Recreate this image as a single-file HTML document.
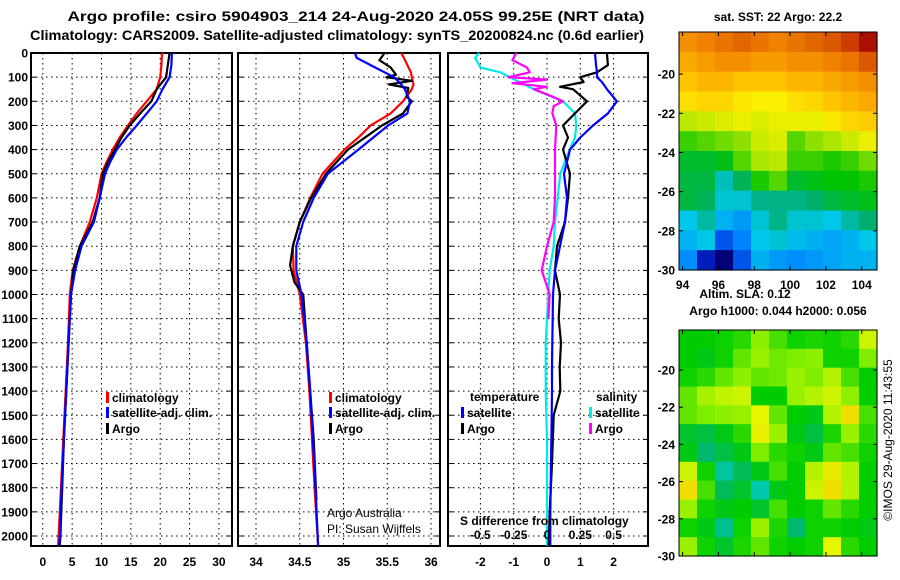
<!DOCTYPE html>
<html><head><meta charset="utf-8"><style>
html,body{margin:0;padding:0;background:#fff;width:900px;height:580px;overflow:hidden}
svg{display:block;font-family:"Liberation Sans",Arial,sans-serif}
.b{font-weight:bold;font-size:12px}
</style></head><body>
<svg id="fig" width="900" height="580" viewBox="0 0 900 580" xmlns="http://www.w3.org/2000/svg">
<text x="356" y="21" text-anchor="middle" font-size="14" font-weight="bold" textLength="577" lengthAdjust="spacingAndGlyphs">Argo profile: csiro 5904903_214 24-Aug-2020 24.05S 99.25E (NRT data)</text>
<text x="337" y="40" text-anchor="middle" font-size="14" font-weight="bold" textLength="614" lengthAdjust="spacingAndGlyphs">Climatology: CARS2009. Satellite-adjusted climatology: synTS_20200824.nc (0.6d earlier)</text>
<g id="p1"></g>
<g id="p2"></g>
<g id="p3"></g>
<g id="m1"></g>
<g id="m2"></g>
<text x="778" y="21" text-anchor="middle" class="b">sat. SST: 22 Argo: 22.2</text>
<text x="745" y="298" text-anchor="middle" class="b">Altim. SLA: 0.12</text>
<text x="778" y="315" text-anchor="middle" class="b">Argo h1000: 0.044 h2000: 0.056</text>
<text transform="translate(892,440) rotate(-90)" text-anchor="middle" font-size="12">©IMOS 29-Aug-2020 11:43:55</text>
</svg>
<script>
// ---------- data ----------
const depthTicks=[0,100,200,300,400,500,600,700,800,900,1000,1100,1200,1300,1400,1500,1600,1700,1800,1900,2000];
const tempTicks=[0,5,10,15,20,25,30];
const salTicks=[34,34.5,35,35.5,36];
const salTickLabels=["34","34.5","35","35.5","36"];
const diffTicks=[-2,-1,0,1,2];
const sdiffLabels=["-0.5","-0.25","0","0.25","0.5"];
const tDepth=[0,50,100,150,200,250,300,350,400,450,500,600,700,800,900,1000,1200,1400,1600,1800,2000,2040];
const tClim=[20.3,20.2,20.0,19.4,17.7,16.0,14.5,13.1,11.9,10.9,10.0,9.2,8.0,6.3,5.1,4.6,4.3,3.9,3.5,3.1,2.7,2.6];
const tSat=[22.0,21.9,21.6,20.4,19.4,17.7,16.0,14.2,12.6,11.5,10.6,9.7,8.7,6.6,5.5,4.8,4.4,4.0,3.6,3.2,2.9,2.8];
const tArgo=[21.6,21.3,21.0,19.4,18.5,16.6,14.8,13.4,12.3,11.1,10.2,9.7,8.5,6.3,5.2,4.8,4.4,4.0,3.6,3.3,3.0,2.9];
const sDepth=[0,20,50,80,100,130,150,200,250,300,350,400,500,600,700,800,900,1000,1200,1400,1600,1800,2040];
const sClim=[35.66,35.69,35.73,35.77,35.78,35.80,35.78,35.68,35.54,35.31,35.17,35.01,34.76,34.62,34.50,34.42,34.43,34.50,34.57,34.61,34.64,34.67,34.71];
const sSat=[35.13,35.15,35.31,35.47,35.58,35.66,35.70,35.76,35.73,35.51,35.34,35.17,34.82,34.66,34.54,34.46,34.46,34.52,34.58,34.62,34.65,34.68,34.71];
const aDepth=[0,30,60,90,100,115,130,145,180,200,250,300,400,500,600,700,800,880,950,1000,1200,1400,1600,1850];
const sArgo=[35.47,35.41,35.54,35.60,35.49,35.78,35.52,35.74,35.72,35.78,35.68,35.44,35.05,34.80,34.63,34.50,34.42,34.39,34.44,34.54,34.58,34.62,34.66,34.69];
const dDepth=[0,50,80,100,120,140,150,200,250,300,350,400,500,600,700,800,900,1000,1100,1200,1300,1400,1500,1700,1900,2040];
const dTSat=[1.44,1.47,1.5,1.5,1.65,1.75,1.8,2.1,1.83,1.38,1.0,0.69,0.51,0.6,0.54,0.39,0.24,0.18,0.17,0.16,0.15,0.15,0.14,0.12,0.1,0.1];
const dTArgo=[1.8,1.83,1.5,1.0,1.1,0.39,0.78,1.2,0.84,0.48,0.63,0.48,0.69,0.63,0.54,0.3,0.24,0.39,0.35,0.42,0.38,0.4,0.2,0.15,0.08,0.05];
const sdDepth=[0,20,60,80,100,150,200,250,300,350,400,500,600,700,800,900,1000,1200,1400,1600,1800,2040];
const dSSat=[-0.51,-0.54,-0.5,-0.35,-0.28,-0.1,0.12,0.21,0.22,0.21,0.17,0.1,0.08,0.06,0.05,0.02,0.01,-0.01,-0.01,0,0,0];
const smDepth=[0,30,60,80,100,110,125,140,150,180,200,220,250,300,400,500,600,700,800,900,1000,1100];
const dSArgo=[-0.23,-0.26,-0.15,-0.13,-0.29,0,-0.26,0,-0.1,0.04,0.12,0.05,0.04,0.07,0.06,0.06,0.06,0.05,0,-0.04,0.02,0.01];
const sstGrid=[
[23.2,23.3,23.4,23.5,23.4,23.3,23.4,23.5,23.6,23.8,24.1],
[23.0,23.1,23.2,23.2,23.1,23.1,23.2,23.2,23.3,23.4,23.6],
[22.8,22.9,22.9,22.8,22.8,22.8,22.9,22.9,23.0,23.1,23.2],
[22.5,22.6,22.6,22.4,22.3,22.3,22.5,22.6,22.8,22.9,23.0],
[21.9,22.0,22.1,22.2,22.1,22.2,22.2,22.2,22.4,22.6,22.7],
[21.4,21.5,21.6,21.7,22.0,22.1,21.5,21.7,21.8,22.0,22.2],
[21.0,21.0,21.1,21.5,21.8,21.9,21.4,21.4,21.3,21.4,21.6],
[20.9,20.9,20.4,20.8,21.3,21.5,21.0,21.1,21.2,21.2,21.3],
[20.9,20.8,20.3,20.3,20.6,20.6,20.6,20.7,20.9,21.0,21.1],
[20.2,20.5,20.0,19.8,20.3,20.6,20.3,20.3,20.2,20.5,20.7],
[20.0,20.2,19.3,19.6,20.2,20.3,20.1,20.0,19.9,20.0,20.2],
[19.7,18.9,18.6,19.3,20.0,19.8,19.7,19.8,19.9,20.0,20.0]];
const slaGrid=[
[1.5,1.5,1.6,1.8,2.5,2.0,1.6,1.7,1.6,1.8,3.0],
[1.5,1.4,1.6,2.2,2.6,2.3,2.4,2.5,1.6,1.6,2.4],
[1.6,1.8,2.2,2.5,2.2,2.3,2.6,2.4,2.8,2.0,1.5],
[2.2,2.7,2.9,3.0,1.5,1.5,2.6,2.8,3.0,2.5,1.5],
[2.2,2.4,2.5,2.6,3.2,2.2,1.5,1.4,2.8,3.6,2.0],
[1.3,1.2,1.4,1.8,3.3,2.6,1.4,1.2,1.7,2.6,1.8],
[1.4,1.0,1.2,1.4,2.4,1.8,1.6,1.4,2.2,2.0,1.6],
[3.0,1.6,0.7,1.1,1.4,2.0,1.5,2.8,3.4,2.8,1.5],
[3.6,2.0,1.1,1.3,0.6,1.4,1.5,3.0,3.6,2.8,1.5],
[2.6,1.6,1.4,1.5,1.3,2.0,1.5,1.6,2.2,1.8,1.5],
[1.6,1.4,0.8,1.6,2.6,1.7,1.0,1.6,1.6,1.5,1.4],
[2.6,1.6,1.3,1.7,2.2,1.6,1.5,1.6,3.2,1.8,1.5]];
const latTicks=[-20,-22,-24,-26,-28,-30];
const lonTicks=[94,96,98,100,102,104];

// ---------- helpers ----------
const NS="http://www.w3.org/2000/svg";
function mk(tag,attrs,parent,txt){const e=document.createElementNS(NS,tag);for(const k in attrs)e.setAttribute(k,attrs[k]);if(txt!==undefined)e.textContent=txt;parent.appendChild(e);return e;}
const TOP=53,BOT=546,PX=0.2415;
const yD=d=>TOP+d*PX;
const x1=t=>42.8+5.87*t;
const x2=s=>256+87.5*(s-34);
const x3=t=>547+33.3*t;
const x3s=s=>547+133.2*s;
const LW=2.2;

function frame(g,L,R,xs,ticks,labels,name){
  for(const d of depthTicks){const y=yD(d);
    const gl=mk('line',{x1:L,x2:R,y1:y,y2:y,stroke:'#000','stroke-width':1,'stroke-dasharray':'1.5,3.5'},g);
    
    
    mk('line',{x1:L,x2:L+5,y1:y,y2:y,stroke:'#000'},g);mk('line',{x1:R-5,x2:R,y1:y,y2:y,stroke:'#000'},g);}
  ticks.forEach((t,i)=>{const x=xs(t);
    const gl=mk('line',{x1:x,x2:x,y1:TOP,y2:BOT,stroke:'#000','stroke-width':1,'stroke-dasharray':'1.5,3.5'},g);
    
    
    if(labels){const tl=mk('text',{x:x,y:566,'text-anchor':'middle',class:'b'},g,labels[i]);
      
      }
  });
  const r=mk('rect',{x:L,y:TOP,width:R-L,height:BOT-TOP,fill:'none',stroke:'#000','stroke-width':2},g);
  
  
}
function series(g,xs,vals,depths,color,w,name){
  const pts=vals.map((v,i)=>xs(v).toFixed(1)+','+yD(depths[i]).toFixed(1)).join(' ');
  const p=mk('polyline',{points:pts,fill:'none',stroke:color,'stroke-width':w,'stroke-linejoin':'round'},g);
  
  
}
function legend(g,x,y,color,label,name){
  const m=mk('rect',{x:x,y:y-10,width:3,height:11,fill:color},g);
  
  
  const t=mk('text',{x:x+6,y:y,class:'b'},g,label);
  
  
}

// ---------- panel 1 ----------
const p1=document.getElementById('p1');
frame(p1,31,232,x1,tempTicks,tempTicks.map(String),'temperature');
depthTicks.forEach(d=>{const t=mk('text',{x:28,y:yD(d)+4.5,'text-anchor':'end',class:'b'},p1,String(d));
  
  });
series(p1,x1,tClim,tDepth,'#f00',LW,'temp-climatology-line');
series(p1,x1,tArgo,tDepth,'#000',LW,'temp-argo-line');
series(p1,x1,tSat,tDepth,'#00f',LW,'temp-satellite-line');
legend(p1,106,402,'#f00','climatology','legend-climatology');
legend(p1,106,417,'#00f','satellite-adj. clim.','legend-satellite-adj');
legend(p1,106,433,'#000','Argo','legend-argo');

// ---------- panel 2 ----------
const p2=document.getElementById('p2');
frame(p2,238,440,x2,salTicks,salTickLabels,'salinity');
series(p2,x2,sClim,sDepth,'#f00',LW,'sal-climatology-line');
series(p2,x2,sArgo,aDepth,'#000',LW,'sal-argo-line');
series(p2,x2,sSat,sDepth,'#00f',LW,'sal-satellite-line');
legend(p2,329,402,'#f00','climatology','legend-climatology');
legend(p2,329,417,'#00f','satellite-adj. clim.','legend-satellite-adj');
legend(p2,329,433,'#000','Argo','legend-argo');
let t;
t=mk('text',{x:327,y:517,'font-size':12},p2,'Argo Australia');


t=mk('text',{x:327,y:533,'font-size':12},p2,'PI: Susan Wijffels');



// ---------- panel 3 ----------
const p3=document.getElementById('p3');
frame(p3,448,648,x3,diffTicks,diffTicks.map(String),'temp-difference');
series(p3,x3s,dSSat,sdDepth,'#00e8e8',LW,'sal-diff-satellite-line');
series(p3,x3s,dSArgo,smDepth,'#f0f',LW,'sal-diff-argo-line');
series(p3,x3,dTArgo,dDepth,'#000',LW,'temp-diff-argo-line');
series(p3,x3,dTSat,dDepth,'#00f',LW,'temp-diff-satellite-line');
t=mk('text',{x:470,y:401,class:'b'},p3,'temperature');


t=mk('text',{x:596,y:401,class:'b'},p3,'salinity');


legend(p3,461,417,'#00f','satellite','legend-temp-satellite');
legend(p3,461,433,'#000','Argo','legend-temp-argo');
legend(p3,589,417,'#00e8e8','satellite','legend-sal-satellite');
legend(p3,589,433,'#f0f','Argo','legend-sal-argo');
t=mk('text',{x:460,y:525,class:'b'},p3,'S difference from climatology');


sdiffLabels.forEach((l,i)=>{const tt=mk('text',{x:x3(diffTicks[i]),y:539,'text-anchor':'middle',class:'b'},p3,l);
  
  });

// ---------- maps ----------
function lerpC(stops,v){if(v<=stops[0][0])return stops[0][1];
  for(let i=1;i<stops.length;i++){if(v<=stops[i][0]){const a=stops[i-1],b=stops[i],f=(v-a[0])/(b[0]-a[0]);
    return 'rgb('+a[1].map((c,k)=>Math.round(c+(b[1][k]-c)*f)).join(',')+')';}}
  return 'rgb('+stops[stops.length-1][1].join(',')+')';}
function toRgb(c){return typeof c==='string'?c:'rgb('+c.join(',')+')';}
const sstStops=[[18.6,[0,0,120]],[19.0,[0,40,210]],[19.6,[0,130,255]],[20.2,[0,200,235]],[20.7,[0,175,110]],[21.2,[0,195,0]],[21.8,[170,230,0]],[22.3,[250,240,0]],[22.8,[255,195,0]],[23.3,[240,130,0]],[23.8,[205,60,0]],[24.2,[160,0,0]]];
const slaStops=[[0.5,[0,205,190]],[1.0,[0,185,110]],[1.5,[0,205,0]],[2.5,[140,240,0]],[3.2,[230,245,0]],[4.0,[245,200,0]]];
function drawMap(id,grid,stops,L,T,R,B,lonLabels,name){
  const g=document.getElementById(id);const rows=grid.length,cols=grid[0].length;
  const cw=(R-L)/cols,ch=(B-T)/rows;
  grid.forEach((row,r)=>row.forEach((v,c)=>{
    const cell=mk('rect',{x:(L+c*cw).toFixed(2),y:(T+r*ch).toFixed(2),width:(cw+0.6).toFixed(2),height:(ch+0.6).toFixed(2),fill:toRgb(lerpC(stops,v))},g);
    
    }));
  const yl=lat=>T+(lat-(-17.85))/(-30-(-17.85))*(B-T);
  const xl=lon=>L+(lon-93.8)/(104.85-93.8)*(R-L);
  latTicks.forEach(l=>{const y=yl(l);mk('line',{x1:L,x2:L+4,y1:y,y2:y,stroke:'#000'},g);mk('line',{x1:R-4,x2:R,y1:y,y2:y,stroke:'#000'},g);
    const tt=mk('text',{x:L-4,y:y+4.5,'text-anchor':'end',class:'b'},g,String(l));
    
    });
  lonTicks.forEach(l=>{const x=xl(l);mk('line',{x1:x,x2:x,y1:B,y2:B-4,stroke:'#000'},g);mk('line',{x1:x,x2:x,y1:T,y2:T+4,stroke:'#000'},g);
    if(lonLabels){const tt=mk('text',{x:x,y:B+19,'text-anchor':'middle',class:'b'},g,String(l));
      
      }});
  const fr=mk('rect',{x:L,y:T,width:R-L,height:B-T,fill:'none',stroke:'#000','stroke-width':1},g);
  
  
}
drawMap('m1',sstGrid,sstStops,679,32,877,270,true,'sst-map');
drawMap('m2',slaGrid,slaStops,679,330,877,556,false,'sla-map');
</script>
</body></html>
